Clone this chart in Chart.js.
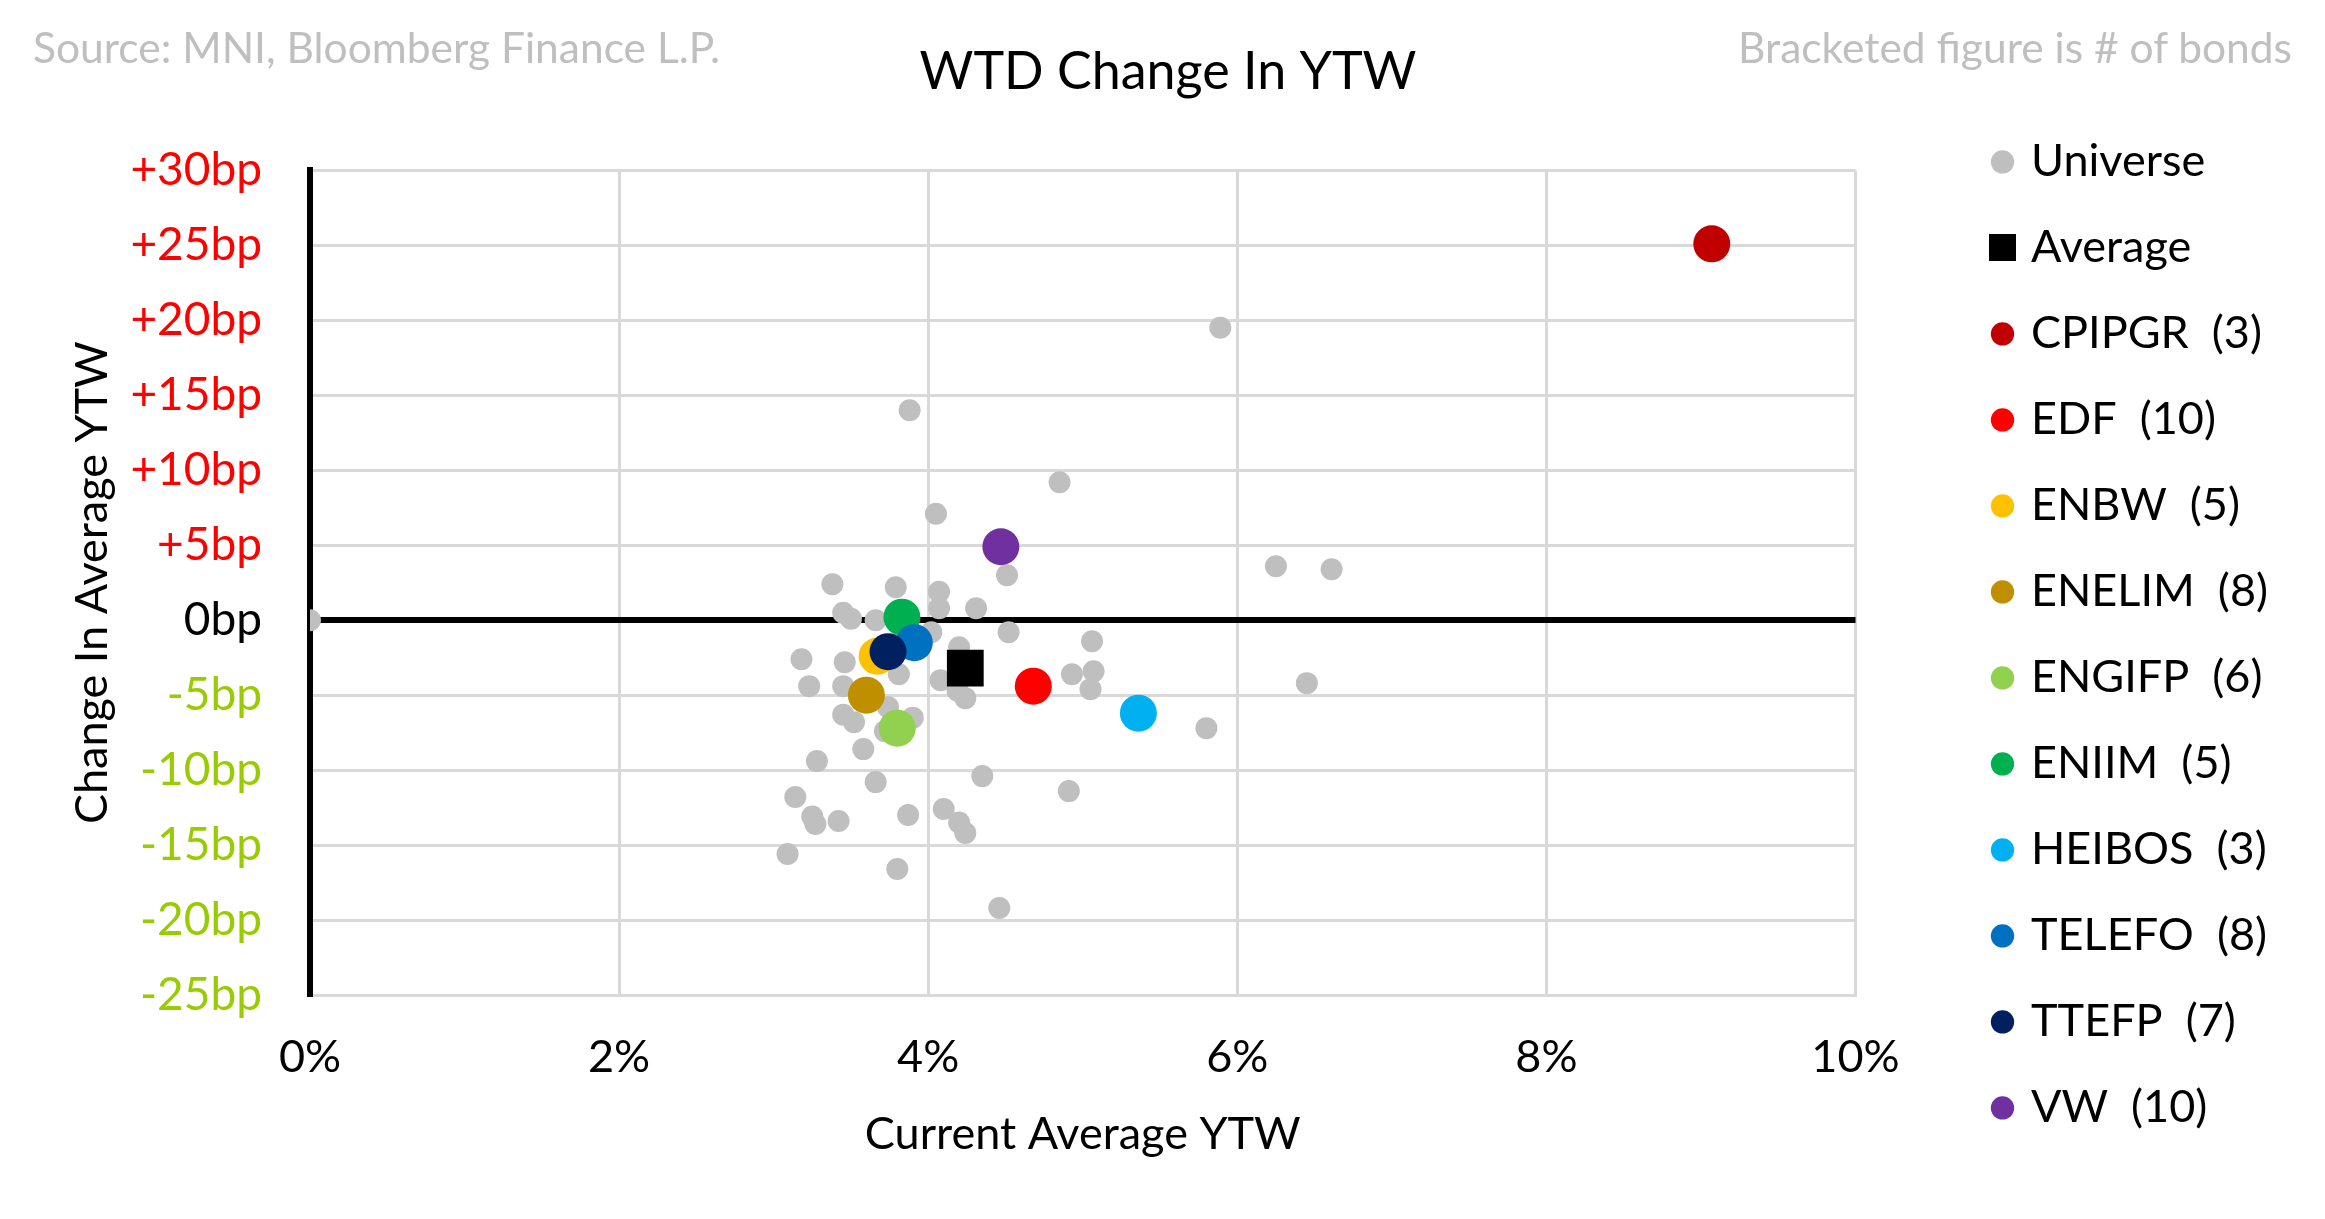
<!DOCTYPE html>
<html>
<head>
<meta charset="utf-8">
<script src="https://cdn.jsdelivr.net/npm/chart.js@4.4.1/dist/chart.umd.min.js"></script>
<style>
    body { margin: 0; background: #fff; }
    #wrap { position: relative; width: 2325px; height: 1219px; }
    .note { position: absolute; top: 22px; font-family: Lato, sans-serif; font-size: 42.5px; line-height: 50px; color: #BFBFBF; white-space: nowrap; }
</style>
</head>
<body>
<div id="wrap">
    <canvas id="ytwChart"></canvas>
    <div class="note" style="left:33px">Source: MNI, Bloomberg Finance L.P.</div>
    <div class="note" style="right:33px">Bracketed figure is # of bonds</div>
</div>
<script>
// Universe of bonds: current YTW (%) and WTD change (bp)
const universeX = [0, 5.89, 3.88, 4.85, 4.05, 4.51, 6.25, 6.61, 3.38, 3.79, 4.07, 4.07, 4.31, 3.45, 3.50, 3.66,
    4.02, 4.52, 5.06, 4.20, 3.18, 3.46, 3.81, 4.93, 5.07, 4.08, 3.23, 3.45, 5.05, 4.19, 6.45, 4.24, 3.74,
    3.45, 3.90, 3.52, 3.72, 5.80, 3.58, 3.28, 4.35, 3.66, 4.91, 3.14, 3.42, 3.25, 3.27, 3.87, 4.10, 4.20,
    4.24, 3.09, 3.80, 4.46];
const universeY = [0, 19.5, 14.0, 9.2, 7.1, 3.0, 3.6, 3.4, 2.4, 2.2, 1.9, 0.8, 0.8, 0.5, 0.1, 0.0,
    -0.8, -0.8, -1.4, -1.8, -2.6, -2.8, -3.6, -3.6, -3.4, -4.0, -4.4, -4.4, -4.6, -4.7, -4.2, -5.2, -5.8,
    -6.3, -6.5, -6.8, -7.4, -7.2, -8.6, -9.4, -10.4, -10.8, -11.4, -11.8, -13.4, -13.1, -13.6, -13.0, -12.6, -13.5,
    -14.2, -15.6, -16.6, -19.2];

const averageX = 4.24;
const averageY = -3.2;

// Issuer averages
const issuers = ['CPIPGR', 'EDF', 'ENBW', 'ENELIM', 'ENGIFP', 'ENIIM', 'HEIBOS', 'TELEFO', 'TTEFP', 'VW'];
const bondCounts = [3, 10, 5, 8, 6, 5, 3, 8, 7, 10];
const issuerX = [9.07, 4.68, 3.67, 3.60, 3.80, 3.83, 5.36, 3.91, 3.74, 4.47];
const issuerY = [25.1, -4.4, -2.4, -5.0, -7.2, 0.2, -6.2, -1.5, -2.1, 4.9];
const issuerColors = ['#C00000', '#FF0000', '#FFC000', '#BF8F00', '#92D050', '#00B050', '#00B0F0', '#0070C0', '#002060', '#7030A0'];

Chart.defaults.font.family = 'Lato';

function initChart() {
    const datasets = [{
        label: 'Universe',
        data: universeX.map((x, i) => ({x: x, y: universeY[i]})),
        backgroundColor: '#BFBFBF',
        borderWidth: 0,
        pointRadius: 11,
        order: 12
    }, {
        label: 'Average',
        data: [{x: averageX, y: averageY}],
        backgroundColor: '#000000',
        borderWidth: 0,
        pointStyle: 'rect',
        pointRadius: 26,
        order: 11
    }];
    issuers.forEach((name, i) => {
        datasets.push({
            label: `${name}  (${bondCounts[i]})`,
            data: [{x: issuerX[i], y: issuerY[i]}],
            backgroundColor: issuerColors[i],
            borderWidth: 0,
            pointRadius: 18.5,
            order: 10 - i
        });
    });

    // legend square for the average is bigger than the point-style default
    const legendSquare = document.createElement('canvas');
    legendSquare.width = 27;
    legendSquare.height = 27;
    legendSquare.getContext('2d').fillRect(0, 0, 27, 27);

    const ctx = document.getElementById('ytwChart').getContext('2d');
    window.ytwChart = new Chart(ctx, {
        type: 'scatter',
        data: { datasets: datasets },
        options: {
            responsive: true,
            maintainAspectRatio: false,
            animation: false,
            events: [],
            layout: { padding: { top: 0, left: 58, right: 47, bottom: 0 } },
            plugins: {
                tooltip: { enabled: false },
                title: {
                    display: true,
                    text: 'WTD Change In YTW',
                    color: '#000',
                    font: { size: 52, weight: 'normal' },
                    padding: { top: 41, bottom: 67 }
                },
                legend: {
                    position: 'right',
                    align: 'start',
                    title: { display: true, text: '', font: { size: 12 }, padding: { top: 0, bottom: 84 } },
                    labels: {
                        usePointStyle: true,
                        boxWidth: 12,
                        boxHeight: 16.5,
                        padding: 41,
                        color: '#000',
                        font: { size: 45 },
                        sort: (a, b) => a.datasetIndex - b.datasetIndex,
                        generateLabels: function(chart) {
                            const items = Chart.defaults.plugins.legend.labels.generateLabels(chart);
                            items.forEach(item => {
                                if (item.text === 'Average') item.pointStyle = legendSquare;
                            });
                            return items;
                        }
                    }
                }
            },
            scales: {
                x: {
                    type: 'linear',
                    min: 0,
                    max: 10,
                    afterFit: function(scale) { scale.height = 224; },
                    ticks: {
                        stepSize: 2,
                        padding: 35,
                        color: '#000',
                        font: { size: 45 },
                        callback: v => v + '%'
                    },
                    grid: {
                        color: c => (c.tick && c.tick.value === 0) ? 'rgba(0,0,0,0)' : '#D9D9D9',
                        lineWidth: 3,
                        drawTicks: false
                    },
                    border: { display: true, color: '#D9D9D9', width: 3 },
                    title: {
                        display: true,
                        text: 'Current Average YTW',
                        color: '#000',
                        font: { size: 45 },
                        padding: { top: 27, bottom: 58 }
                    }
                },
                y: {
                    min: -25,
                    max: 30,
                    afterFit: function(scale) { scale.width = 252; },
                    ticks: {
                        stepSize: 5,
                        padding: 48,
                        font: { size: 46 },
                        color: c => c.tick.value > 0 ? '#FF0000' : (c.tick.value < 0 ? '#99CC00' : '#000000'),
                        callback: v => (v > 0 ? '+' : '') + v + 'bp'
                    },
                    grid: {
                        color: c => (c.tick && c.tick.value === 0) ? '#000000' : '#D9D9D9',
                        lineWidth: c => (c.tick && c.tick.value === 0) ? 6 : 3,
                        drawTicks: false
                    },
                    border: { display: true, color: '#000', width: 6 },
                    title: {
                        display: true,
                        text: 'Change In Average YTW',
                        color: '#000',
                        font: { size: 45 },
                        padding: { top: 7, bottom: 0 }
                    }
                },
                // spacer between plot and legend
                y2: {
                    position: 'right',
                    grid: { display: false },
                    border: { display: false },
                    ticks: { display: false },
                    afterFit: function(scale) { scale.width = 100; }
                }
            }
        }
    });
}

document.addEventListener('DOMContentLoaded', function() {
    document.fonts.load('45px Lato').then(initChart, initChart);
});
</script>
</body>
</html>
